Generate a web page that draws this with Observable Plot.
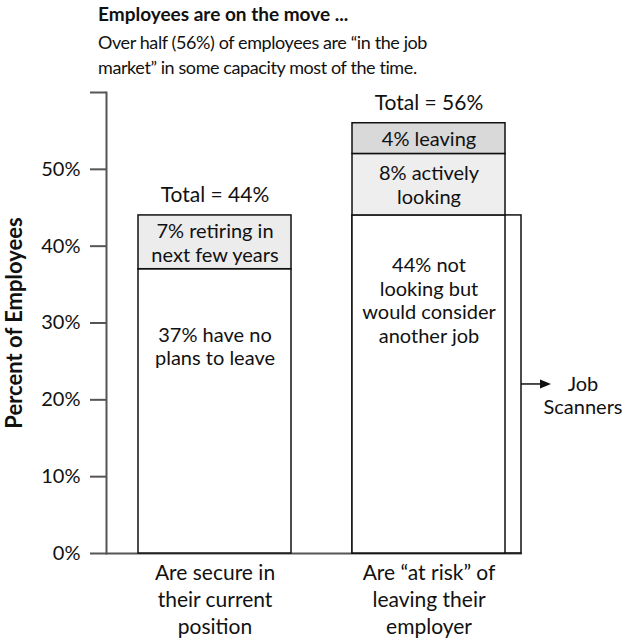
<!DOCTYPE html>
<html><head><meta charset="utf-8">
<script src="https://cdn.jsdelivr.net/npm/d3@7"></script>
<script src="https://cdn.jsdelivr.net/npm/@observablehq/plot@0.6"></script>
<style>
body{margin:0;background:#fff;font-family:Lato, sans-serif;color:#111;}
#head{height:80px;padding-left:98px;box-sizing:border-box;}
#title{font-weight:bold;font-size:19px;line-height:26px;padding-top:1px;}
#sub{font-size:18px;line-height:25px;margin-top:3px;letter-spacing:-0.4px;}
#chart svg{display:block;}
</style></head><body>
<div id="head"><div id="title">Employees are on the move ...</div><div id="sub">Over half (56%) of employees are “in the job<br>market” in some capacity most of the time.</div></div>
<div id="chart"></div>
<script>
const categories = ["Are secure in\ntheir current\nposition", "Are “at risk” of\nleaving their\nemployer"];
const totals = [44, 56];
const totalLabels = ["Total = 44%", "Total = 56%"];
const segCategory = [0, 0, 1, 1, 1];
const segKeys = ["no plans", "retiring", "would consider", "actively looking", "leaving"];
const segValues = [37, 7, 44, 8, 4];
const segLabels = ["37% have no\nplans to leave", "7% retiring in\nnext few years", "44% not\nlooking but\nwould consider\nanother job", "8% actively\nlooking", "4% leaving"];
const segLabelAt = [27, 40.5, 33, 48, 54];
const scannerValue = 44;
const scannerLabel = "Job\nScanners";
const yTicks = [0, 10, 20, 30, 40, 50, 60];
const yLabel = "Percent of Employees";

const segs = segValues.map((v, i) => ({cat: categories[segCategory[i]], key: segKeys[i], value: v, label: segLabels[i], at: segLabelAt[i]}));
const totalsData = totals.map((t, i) => ({cat: categories[i], total: t, label: totalLabels[i]}));
const scanner = [{cat: categories[1], y2: scannerValue, mid: scannerValue / 2, label: scannerLabel}];

const FS = 20;
const plot = Plot.plot({
  width: 626, height: 562,
  marginTop: 12, marginBottom: 89, marginLeft: 106, marginRight: 104,
  style: {fontFamily: "Lato, sans-serif", fontSize: FS + "px", color: "#111", background: "#fff"},
  x: {domain: categories, paddingInner: 0.2837, paddingOuter: 0.1093, align: 0.66, axis: null},
  y: {domain: [0, 60], axis: null},
  color: {domain: segKeys, range: ["#ffffff", "#ececec", "#ffffff", "#eeeeee", "#d9d9d9"]},
  marks: [
    Plot.frame({anchor: "left", stroke: "#555", strokeWidth: 2}),
    Plot.axisY({ticks: yTicks, tickSize: 16, tickPadding: 10, tickFormat: d => d === 60 ? "" : d + "%", stroke: "#555", strokeWidth: 2, fill: "#111", fontSize: FS, label: null}),
    Plot.ruleY([0], {stroke: "#555", strokeWidth: 2}),
    Plot.barY(scanner, {x: "cat", y1: 0, y2: "y2", insetRight: -16, fill: "none", stroke: "#111", strokeWidth: 1.5}),
    Plot.barY(segs, {x: "cat", y: "value", fill: "key", stroke: "#111", strokeWidth: 1.5}),
    Plot.text(segs, {x: "cat", y: "at", text: "label", lineHeight: 1.18, fontSize: FS, fill: "#111"}),
    Plot.text(totalsData, {x: "cat", y: "total", text: "label", dy: -20, fontSize: 21, fill: "#111"}),
    Plot.text(categories, {x: d => d, y: () => 0, text: d => d, lineAnchor: "top", dy: 8, lineHeight: 1.27, fontSize: 21, fill: "#111"}),
    Plot.text([yLabel], {frameAnchor: "left", text: d => d, rotate: -90, textAnchor: "middle", dx: -92, fontWeight: "bold", fontSize: 22, fill: "#111"}),
    Plot.text(scanner, {x: "cat", y: "mid", text: "label", dx: 154, lineAnchor: "top", dy: -11, lineHeight: 1.2, fontSize: FS, fill: "#111"}),
    (index, scales) => {
      const x = scales.x, y = scales.y;
      const x0 = x(scanner[0].cat) + x.bandwidth() + 16;
      const x1 = x0 + 30;
      const yy = y(scanner[0].mid);
      const g = d3.create("svg:g");
      g.append("line").attr("x1", x0).attr("x2", x1 - 9).attr("y1", yy).attr("y2", yy).attr("stroke", "#111").attr("stroke-width", 1.5);
      g.append("path").attr("d", `M${x1},${yy}L${x1 - 11},${yy - 4.5}L${x1 - 11},${yy + 4.5}Z`).attr("fill", "#111");
      return g.node();
    }
  ]
});
document.getElementById("chart").append(plot);
</script>
</body></html>
